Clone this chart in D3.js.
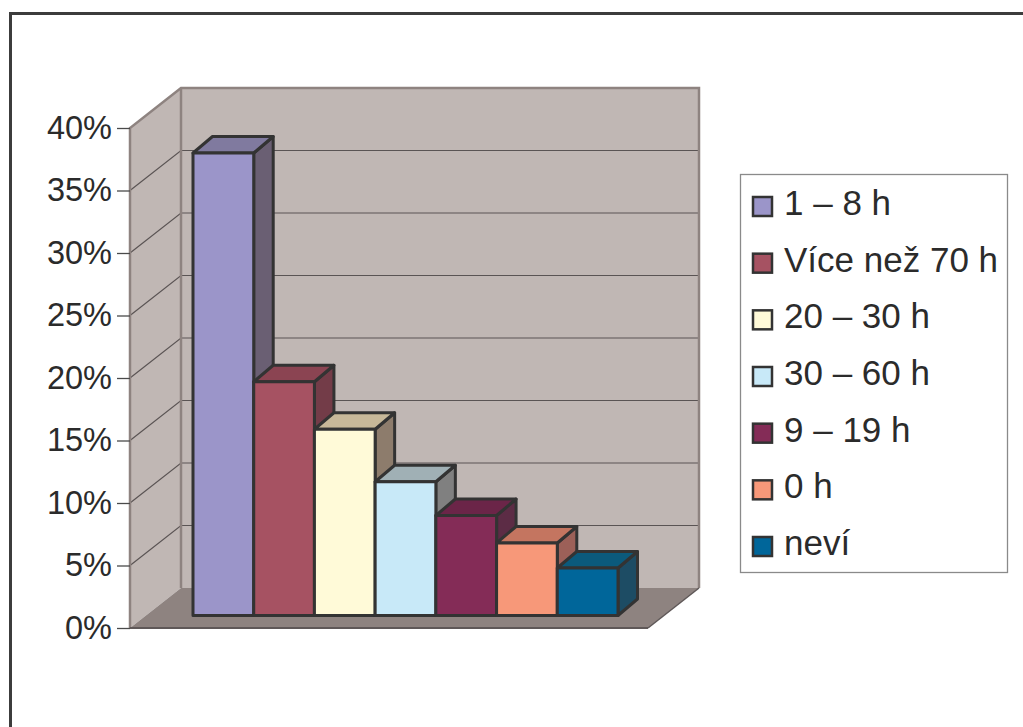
<!DOCTYPE html>
<html>
<head>
<meta charset="utf-8">
<script src="https://cdn.jsdelivr.net/npm/d3@7"></script>
<style>
  html, body { margin: 0; padding: 0; background: #fff; }
  svg text { font-family: "Liberation Sans", Arial, sans-serif; fill: #2b2b2b; }
</style>
</head>
<body>
<div id="chart"></div>
<script>
// kategorie v pořadí sloupců
const categories = ["1 – 8 h", "Více než 70 h", "20 – 30 h", "30 – 60 h", "9 – 19 h", "0 h", "neví"];
// podíly odpovědí
const shares = [0.370, 0.187, 0.149, 0.107, 0.080, 0.058, 0.038];
const tickValues = [0, 0.05, 0.10, 0.15, 0.20, 0.25, 0.30, 0.35, 0.40];
// barvy: přední stěna, horní plocha, boční stěna
const frontColors = ["#9b95c9", "#a65262", "#fffad8", "#c8e9f8", "#842c57", "#f79879", "#00669a"];
const topColors   = ["#807a9f", "#8b4452", "#c7b899", "#a0b0b5", "#6b2548", "#c47560", "#0b5a7c"];
const sideColors  = ["#6a5f73", "#733c48", "#8d7c6c", "#808080", "#5c2c45", "#9c6058", "#1d4c64"];

const W = 1023, H = 727;
const svg = d3.select("#chart").append("svg")
    .attr("width", W).attr("height", H);

// vnější rámeček
svg.append("rect")
    .attr("x", 10.5).attr("y", 13.5)
    .attr("width", 1100).attr("height", 900)
    .attr("fill", "none").attr("stroke", "#3c3c3c").attr("stroke-width", 3);

// geometrie 3D plochy
const x0 = 130, x1 = 648;        // přední hrana podlahy
const depthX = 51, depthY = -40; // posun zadní stěny
const y = d3.scaleLinear().domain([0, 0.4]).range([628, 128]);

const wallFill = "#c0b7b4", floorFill = "#8e8380", edge = "#8e8380";

// levá stěna
svg.append("polygon")
    .attr("points", [[x0, y(0.4)], [x0 + depthX, y(0.4) + depthY], [x0 + depthX, y(0) + depthY], [x0, y(0)]].join(" "))
    .attr("fill", wallFill);
// zadní stěna
svg.append("rect")
    .attr("x", x0 + depthX).attr("y", y(0.4) + depthY)
    .attr("width", x1 - x0).attr("height", y(0) - y(0.4))
    .attr("fill", wallFill);
// podlaha
svg.append("polygon")
    .attr("points", [[x0, y(0)], [x0 + depthX, y(0) + depthY], [x1 + depthX, y(0) + depthY], [x1, y(0)]].join(" "))
    .attr("fill", floorFill);

// mřížka
const grid = svg.append("g").attr("stroke", "#5a5454").attr("stroke-width", 1.2).attr("fill", "none");
tickValues.slice(1, -1).forEach(t => {
  grid.append("polyline")
      .attr("points", [[x0, y(t)], [x0 + depthX, y(t) + depthY], [x1 + depthX, y(t) + depthY]].join(" "));
});

// hrany stěn
const edges = svg.append("g").attr("stroke", edge).attr("fill", "none");
edges.append("polyline").attr("stroke-width", 2.5)
    .attr("points", [[x0, y(0)], [x0, y(0.4)], [x0 + depthX, y(0.4) + depthY], [x1 + depthX, y(0.4) + depthY], [x1 + depthX, y(0) + depthY]].join(" "));
edges.append("line").attr("stroke-width", 2.5)
    .attr("x1", x0 + depthX).attr("y1", y(0.4) + depthY)
    .attr("x2", x0 + depthX).attr("y2", y(0) + depthY);
edges.append("line").attr("stroke-width", 2).attr("stroke", "#5f5858")
    .attr("x1", x0).attr("y1", y(0)).attr("x2", x1).attr("y2", y(0));
edges.append("line").attr("stroke-width", 1.5).attr("stroke", "#5f5858")
    .attr("x1", x1).attr("y1", y(0)).attr("x2", x1 + depthX).attr("y2", y(0) + depthY);

// osa Y
const axis = svg.append("g")
    .attr("transform", `translate(${x0},0)`)
    .call(d3.axisLeft(y)
      .tickValues(tickValues)
      .tickFormat(d3.format(".0%"))
      .tickSize(13)
      .tickPadding(5));
axis.select(".domain").remove();
axis.selectAll(".tick line").attr("stroke", "#4a4a4a").attr("stroke-width", 1.3);
axis.selectAll(".tick text")
    .attr("font-size", 32.5)
    .attr("dy", "0.32em")
    .style("fill", "#2b2b2b");

// sloupce (přední plocha je uvnitř hloubky podlahy)
const bx = d3.scaleBand().domain(categories).range([193, 618]).padding(0);
const by = d3.scaleLinear().domain([0, 0.4]).range([615.5, 115.5]);
const bdx = 19.5, bdy = -16.5;

const bars = svg.append("g")
    .attr("stroke", "#333")
    .attr("stroke-width", 3)
    .attr("stroke-linejoin", "round");

categories.forEach((c, i) => {
  const l = bx(c), r = l + bx.bandwidth();
  const t = by(shares[i]), b = by(0);
  bars.append("polygon")
      .attr("points", [[r, t], [r + bdx, t + bdy], [r + bdx, b + bdy], [r, b]].join(" "))
      .attr("fill", sideColors[i]);
  bars.append("polygon")
      .attr("points", [[l, t], [l + bdx, t + bdy], [r + bdx, t + bdy], [r, t]].join(" "))
      .attr("fill", topColors[i]);
  bars.append("rect")
      .attr("x", l).attr("y", t)
      .attr("width", r - l).attr("height", b - t)
      .attr("fill", frontColors[i]);
});

// legenda
const legend = svg.append("g");
legend.append("rect")
    .attr("x", 740.5).attr("y", 174.5)
    .attr("width", 267).attr("height", 398)
    .attr("fill", "#fff").attr("stroke", "#8a8a8a").attr("stroke-width", 1.3);

const ly = d3.scalePoint().domain(categories).range([206, 546]);
categories.forEach((c, i) => {
  const g = legend.append("g").attr("transform", `translate(0,${ly(c)})`);
  g.append("rect")
      .attr("x", 753).attr("y", -9)
      .attr("width", 19).attr("height", 19)
      .attr("fill", frontColors[i])
      .attr("stroke", "#333").attr("stroke-width", 2.5);
  g.append("text")
      .attr("x", 784).attr("y", 9)
      .attr("font-size", 35)
      .text(c);
});
</script>
</body>
</html>
